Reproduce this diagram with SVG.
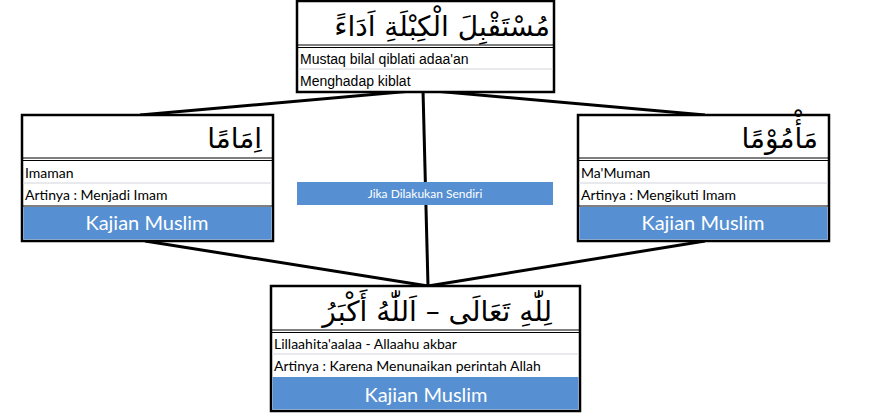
<svg xmlns="http://www.w3.org/2000/svg" width="888" height="416" viewBox="0 0 888 416">
<style>
.box{fill:#fff;stroke:#000;stroke-width:2.5}
.sep{stroke:#000;stroke-width:1}
.row{stroke:#d0d4da;stroke-width:1}
.blue{fill:#5690d3}
.ar{font-family:"DejaVu Sans",sans-serif;font-size:28px;fill:#000}
.lt{font-family:Lato,"Liberation Sans",sans-serif;font-size:14px;fill:#000}
.ka{font-family:Lato,"Liberation Sans",sans-serif;font-size:20px;fill:#fff;text-anchor:middle}
.con{stroke:#000;stroke-width:3;fill:none}
</style>
<rect width="888" height="416" fill="#fff"/>
<g id="connectors">
<line class="con" x1="423" y1="90" x2="140" y2="115"/>
<line class="con" x1="423" y1="90" x2="705" y2="115"/>
<line class="con" x1="423" y1="90" x2="428" y2="286"/>
<line class="con" x1="145" y1="241" x2="428" y2="286"/>
<line class="con" x1="705" y1="241" x2="428" y2="286"/>
</g>
<g id="top">
<rect class="box" x="297" y="1" width="257" height="91"/>
<line class="sep" x1="297" y1="45" x2="554" y2="45"/><line class="sep" x1="297" y1="47.5" x2="554" y2="47.5"/>
<line class="row" x1="298" y1="69" x2="553" y2="69"/>
<text class="ar" x="550" y="36" direction="rtl">مُسْتَقْبِلَ الْكِبْلَةِ اَدَاءً</text>
<text x="300" y="64" font-family="Liberation Sans,Arial,sans-serif" font-size="14">Mustaq bilal qiblati adaa'an</text>
<text x="300" y="86" font-family="Liberation Sans,Arial,sans-serif" font-size="14">Menghadap kiblat</text>
</g>
<g id="left">
<rect class="box" x="22" y="115" width="251" height="126"/>
<line class="sep" x1="22" y1="158" x2="273" y2="158"/><line class="sep" x1="22" y1="160.5" x2="273" y2="160.5"/>
<line class="row" x1="23" y1="183" x2="272" y2="183"/>
<line class="sep" x1="22" y1="206" x2="273" y2="206"/>
<rect class="blue" x="23.5" y="207" width="248" height="32.5"/>
<text class="ar" x="262" y="148" direction="rtl">اِمَامًا</text>
<text class="lt" x="25" y="178">Imaman</text>
<text class="lt" x="25" y="200">Artinya : Menjadi Imam</text>
<text class="ka" x="147" y="230">Kajian Muslim</text>
</g>
<g id="right">
<rect class="box" x="578" y="115" width="251" height="126"/>
<line class="sep" x1="578" y1="158" x2="829" y2="158"/><line class="sep" x1="578" y1="160.5" x2="829" y2="160.5"/>
<line class="row" x1="579" y1="183" x2="828" y2="183"/>
<line class="sep" x1="578" y1="206" x2="829" y2="206"/>
<rect class="blue" x="579.5" y="207" width="248" height="32.5"/>
<text class="ar" x="818" y="148" direction="rtl">مَأْمُوْمًا</text>
<text class="lt" x="581" y="178">Ma'Muman</text>
<text class="lt" x="581" y="200">Artinya : Mengikuti Imam</text>
<text class="ka" x="703" y="230">Kajian Muslim</text>
</g>
<g id="middle">
<rect class="blue" x="297" y="182" width="256" height="23"/>
<text x="425" y="198" text-anchor="middle" font-family="Lato,'Liberation Sans',sans-serif" font-size="12" fill="#fff">Jika Dilakukan Sendiri</text>
</g>
<g id="bottom">
<rect class="box" x="271" y="286" width="309" height="125"/>
<line class="sep" x1="271" y1="330" x2="580" y2="330"/><line class="sep" x1="271" y1="332.5" x2="580" y2="332.5"/>
<line class="row" x1="272" y1="354" x2="579" y2="354"/>
<rect class="blue" x="272.5" y="377" width="306" height="32.5"/>
<text class="ar" x="552" y="321" direction="rtl">لِلّٰهِ تَعَالَى – اَللّٰهُ أَكْبَرُ</text>
<text class="lt" x="274" y="349">Lillaahita'aalaa - Allaahu akbar</text>
<text class="lt" x="274" y="371">Artinya : Karena Menunaikan perintah Allah</text>
<text class="ka" x="426" y="402">Kajian Muslim</text>
</g>
</svg>
